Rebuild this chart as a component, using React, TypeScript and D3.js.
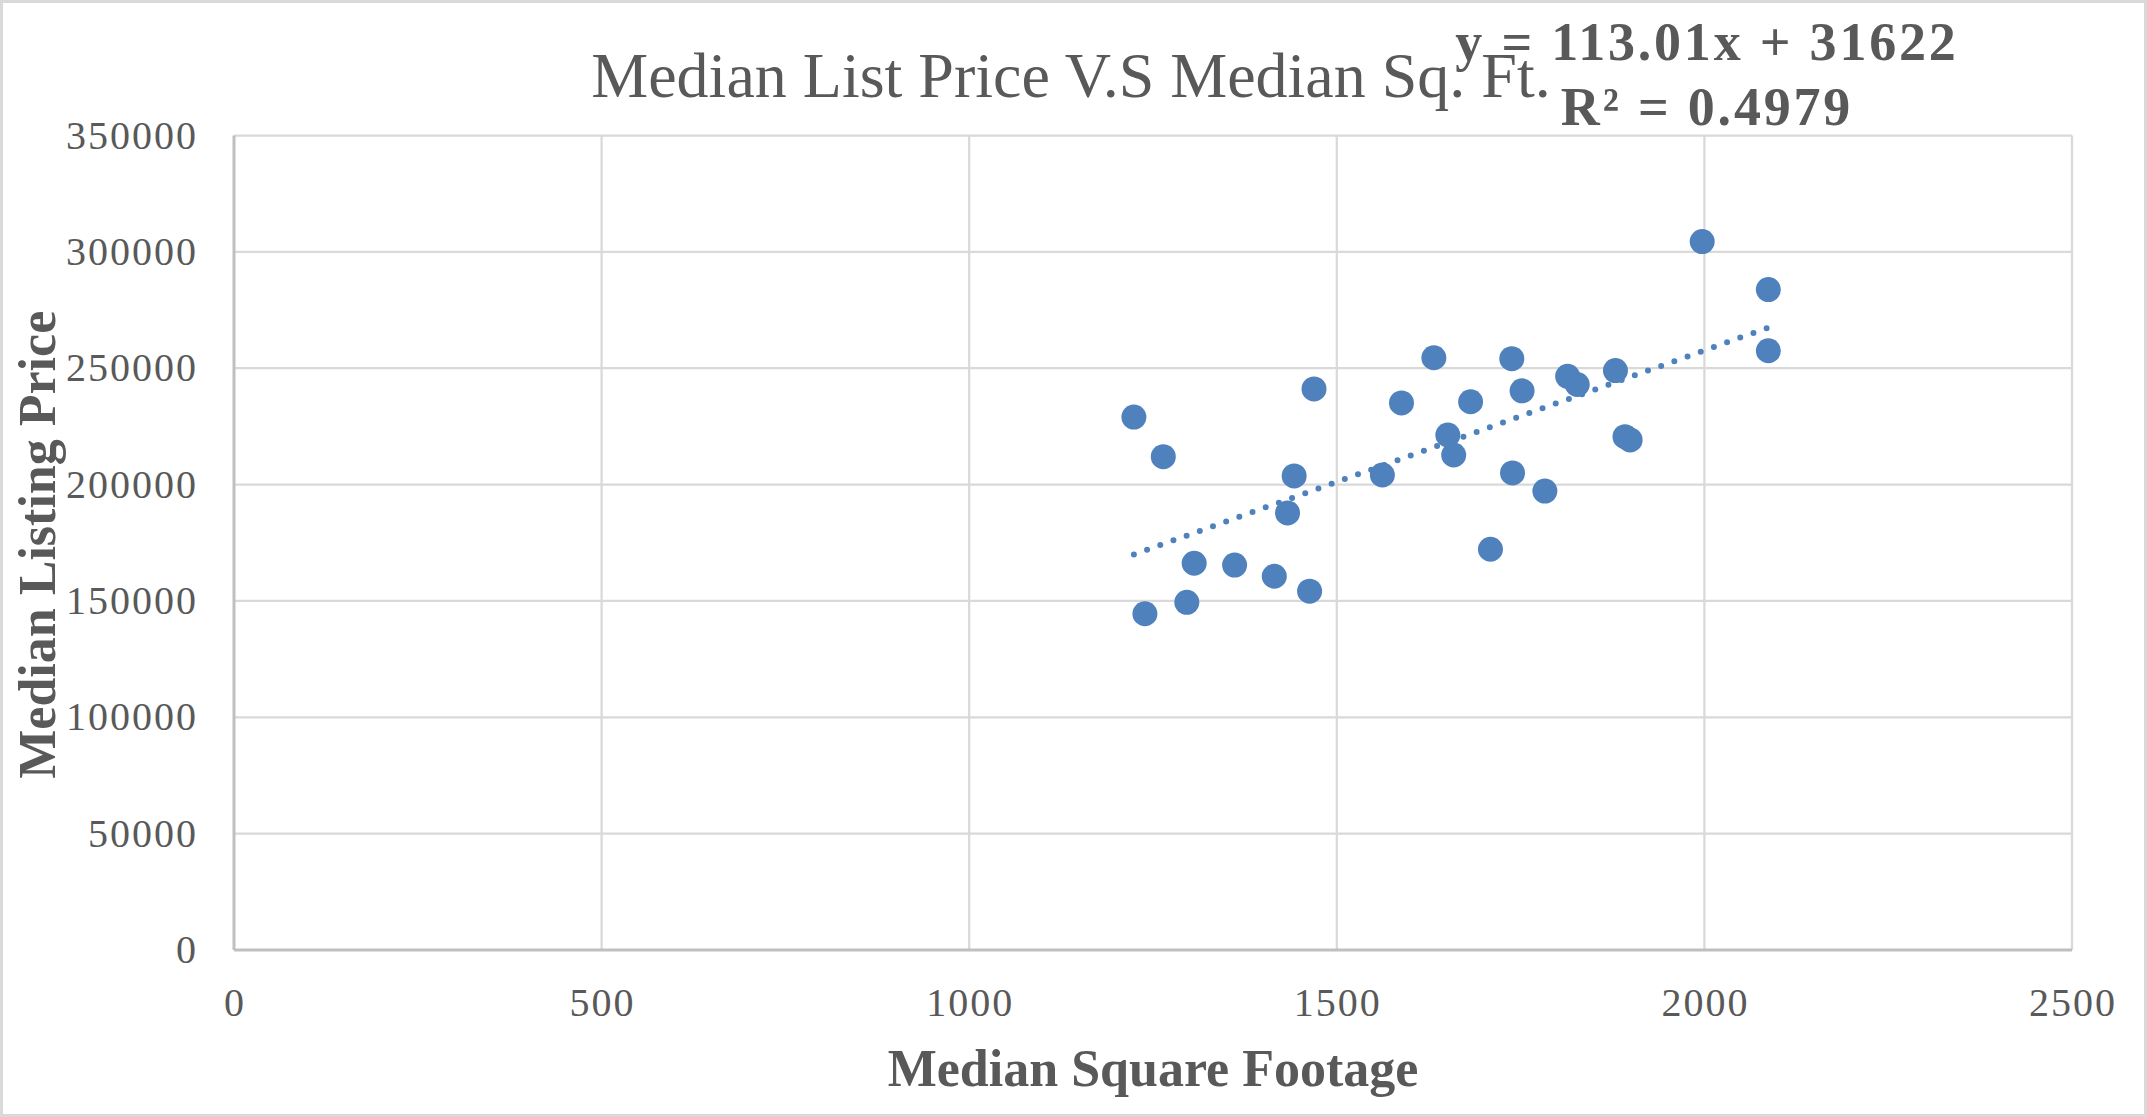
import { useMemo } from 'react';
import * as d3 from 'd3';

// Median square footage vs median listing price
const sqFt = [
  1224, 1264, 1239, 1296, 1306, 1361, 1415, 1463, 1433, 1442,
  1469, 1562, 1588, 1632, 1651, 1659, 1682, 1709, 1738, 1739,
  1752, 1783, 1814, 1827, 1879, 1892, 1899, 1997, 2087, 2087,
];
const listPrice = [
  229000, 212000, 144500, 149400, 166200, 165400, 160600, 154200, 187800, 203700,
  241100, 204100, 235100, 254500, 221300, 212700, 235600, 172200, 254100, 205000,
  240300, 197200, 246500, 243000, 249000, 220600, 219200, 304400, 283800, 257500,
];

const xTicks = [0, 500, 1000, 1500, 2000, 2500];
const yTicks = [0, 50000, 100000, 150000, 200000, 250000, 300000, 350000];

// linear trendline as printed on the chart
const slope = 113.01;
const intercept = 31622;
const eqLabel = 'y = 113.01x + 31622';
const r2Label = 'R² = 0.4979';

const W = 2147;
const H = 1117;
const plot = { left: 234, right: 2072, top: 135.5, bottom: 950 };

const textColor = '#595959';
const gridColor = '#d9d9d9';
const axisColor = '#bfbfbf';
const pointColor = '#4f81bd';

export default function App() {
  const x = useMemo(() => d3.scaleLinear().domain([0, 2500]).range([plot.left, plot.right]), []);
  const y = useMemo(() => d3.scaleLinear().domain([0, 350000]).range([plot.bottom, plot.top]), []);

  const points = sqFt.map((v, i) => ({ sx: v, price: listPrice[i] }));
  const [xMin, xMax] = d3.extent(sqFt) as [number, number];
  const trend = d3.line<number>()
    .x(d => x(d))
    .y(d => y(slope * d + intercept))([xMin, xMax]) ?? '';

  return (
    <svg width={W} height={H} style={{ position: 'absolute', left: 0, top: 0, background: '#fff' }}>
      <rect x={1.5} y={1.5} width={W - 3} height={H - 3} fill="#fff" stroke={gridColor} strokeWidth={3} />

      {/* gridlines */}
      {yTicks.filter(t => t > 0).map(t => (
        <line key={'gy' + t} x1={plot.left} x2={plot.right} y1={y(t)} y2={y(t)} stroke={gridColor} strokeWidth={2.25} />
      ))}
      {xTicks.filter(t => t > 0).map(t => (
        <line key={'gx' + t} x1={x(t)} x2={x(t)} y1={plot.top} y2={plot.bottom} stroke={gridColor} strokeWidth={2.25} />
      ))}

      {/* axes */}
      <line x1={plot.left} x2={plot.left} y1={plot.top} y2={plot.bottom} stroke={axisColor} strokeWidth={3} />
      <line x1={plot.left} x2={plot.right} y1={plot.bottom} y2={plot.bottom} stroke={axisColor} strokeWidth={3} />

      {/* tick labels */}
      <g fontFamily="'Liberation Serif', serif" fontSize={40} fill={textColor} letterSpacing={2}>
        {yTicks.map(t => (
          <text key={'ty' + t} x={198} y={y(t) + 13} textAnchor="end">{t}</text>
        ))}
        {xTicks.map(t => (
          <text key={'tx' + t} x={x(t) + 1} y={1016} textAnchor="middle">{t}</text>
        ))}
      </g>

      {/* trendline */}
      <path d={trend} fill="none" stroke={pointColor} strokeWidth={6} strokeDasharray="0 14" strokeLinecap="round" />

      {/* points */}
      {points.map((p, i) => (
        <circle key={i} cx={x(p.sx)} cy={y(p.price)} r={12.5} fill={pointColor} />
      ))}

      {/* title */}
      <text x={1071} y={97} textAnchor="middle" fontFamily="'Liberation Serif', serif" fontSize={64} fill={textColor}>
        Median List Price V.S Median Sq. Ft.
      </text>

      {/* trendline label */}
      <g fontFamily="'Liberation Serif', serif" fontWeight="bold" fontSize={54} fill={textColor} letterSpacing={2.8} textAnchor="middle">
        <text x={1707} y={60}>{eqLabel}</text>
        <text x={1707} y={125}>{r2Label}</text>
      </g>

      {/* axis titles */}
      <text x={(plot.left + plot.right) / 2} y={1086} textAnchor="middle"
        fontFamily="'Liberation Serif', serif" fontWeight="bold" fontSize={52} fill={textColor}>
        Median Square Footage
      </text>
      <text transform={`translate(55,${(plot.top + plot.bottom) / 2 + 2}) rotate(-90)`} textAnchor="middle"
        fontFamily="'Liberation Serif', serif" fontWeight="bold" fontSize={52} fill={textColor}>
        Median Listing Price
      </text>
    </svg>
  );
}
